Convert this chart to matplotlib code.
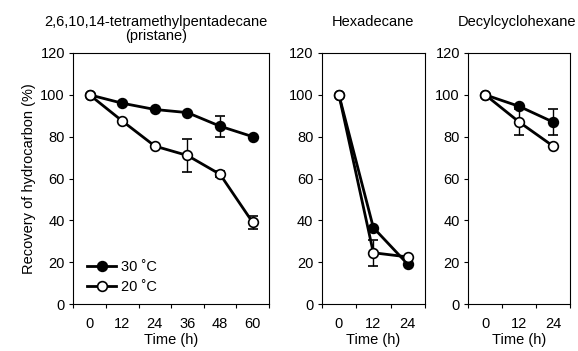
import numpy as np
import matplotlib.pyplot as plt
from matplotlib.lines import Line2D

plt.rcParams['font.family'] = ['Liberation Sans', 'DejaVu Sans']

# pristane
pri_times = ['0', '12', '24', '36', '48', '60']
pri_30 = [100, 96, 93, 91.5, 85, 80]
pri_30_err = [0, 0, 0, 0, 5, 0]
pri_20 = [100, 87.5, 75.5, 71, 62, 39]
pri_20_err = [0, 0, 0, 8, 1.5, 3]

# hexadecane
hex_times = ['0', '12', '24']
hex_30 = [100, 36.5, 19]
hex_30_err = [0, 0, 0]
hex_20 = [100, 24.5, 22.5]
hex_20_err = [0, 6.3, 0]

# decylcyclohexane
dec_times = ['0', '12', '24']
dec_30 = [100, 94.5, 87]
dec_30_err = [0, 0, 6]
dec_20 = [100, 87, 75.5]
dec_20_err = [0, 6, 0]

panels = [
    (pri_times, pri_30, pri_30_err, pri_20, pri_20_err),
    (hex_times, hex_30, hex_30_err, hex_20, hex_20_err),
    (dec_times, dec_30, dec_30_err, dec_20, dec_20_err),
]

fs = 10.5

fig = plt.figure(figsize=(5.78, 3.51), dpi=100)
W, H = 578, 351
boxes = [(73.3, 269), (321.7, 425), (468.3, 570)]
top, bottom = 53, 304

axes = []
for (x0, x1), (times, s30, e30, s20, e20) in zip(boxes, panels):
    ax = fig.add_axes([x0 / W, 1 - bottom / H, (x1 - x0) / W, (bottom - top) / H])
    pos = np.arange(len(times))
    ax.errorbar(pos, s30, yerr=e30, color='black', lw=2, marker='o', ms=7,
                mfc='black', mec='black', mew=1.2, elinewidth=1, capsize=3.5,
                capthick=1, zorder=3)
    ax.errorbar(pos, s20, yerr=e20, color='black', lw=2, marker='o', ms=7,
                mfc='white', mec='black', mew=1.2, elinewidth=1, capsize=3.5,
                capthick=1, zorder=4)
    ax.set_xlim(-0.5, len(times) - 0.5)
    ax.set_ylim(0, 120)
    ax.set_yticks(np.arange(0, 121, 20))
    ax.set_xticks(pos)
    ax.set_xticklabels(times)
    ax.set_xticks(np.arange(len(times) + 1) - 0.5, minor=True)
    ax.tick_params(axis='x', which='major', length=0, pad=9, labelsize=fs)
    ax.tick_params(axis='x', which='minor', length=3, width=0.8, direction='out')
    ax.tick_params(axis='y', length=3, width=0.8, direction='out', labelsize=fs, pad=3)
    for sp in ax.spines.values():
        sp.set_linewidth(0.8)
    ax.set_xlabel('Time (h)', fontsize=fs, labelpad=2)
    axes.append(ax)

axes[0].set_ylabel('Recovery of hydrocarbon (%)', fontsize=fs, labelpad=3)

handles = [
    Line2D([], [], color='black', lw=2, marker='o', ms=7, mfc='black', mec='black', mew=1.2),
    Line2D([], [], color='black', lw=2, marker='o', ms=7, mfc='white', mec='black', mew=1.2),
]
axes[0].legend(handles, ['30 ˚C', '20 ˚C'], loc='lower left', frameon=False, fontsize=fs,
               handlelength=2.0, handletextpad=0.3, labelspacing=0.45,
               borderaxespad=0.0, bbox_to_anchor=(0.04, 0.015))

fig.text(156 / W, 1 - 29 / H, '2,6,10,14-tetramethylpentadecane\n(pristane)',
         ha='center', va='center', fontsize=fs, linespacing=0.95)
fig.text(373.3 / W, 1 - 22 / H, 'Hexadecane', ha='center', va='center', fontsize=fs)
fig.text(517 / W, 1 - 22 / H, 'Decylcyclohexane', ha='center', va='center', fontsize=fs)

fig.savefig('out.png', dpi=100)
